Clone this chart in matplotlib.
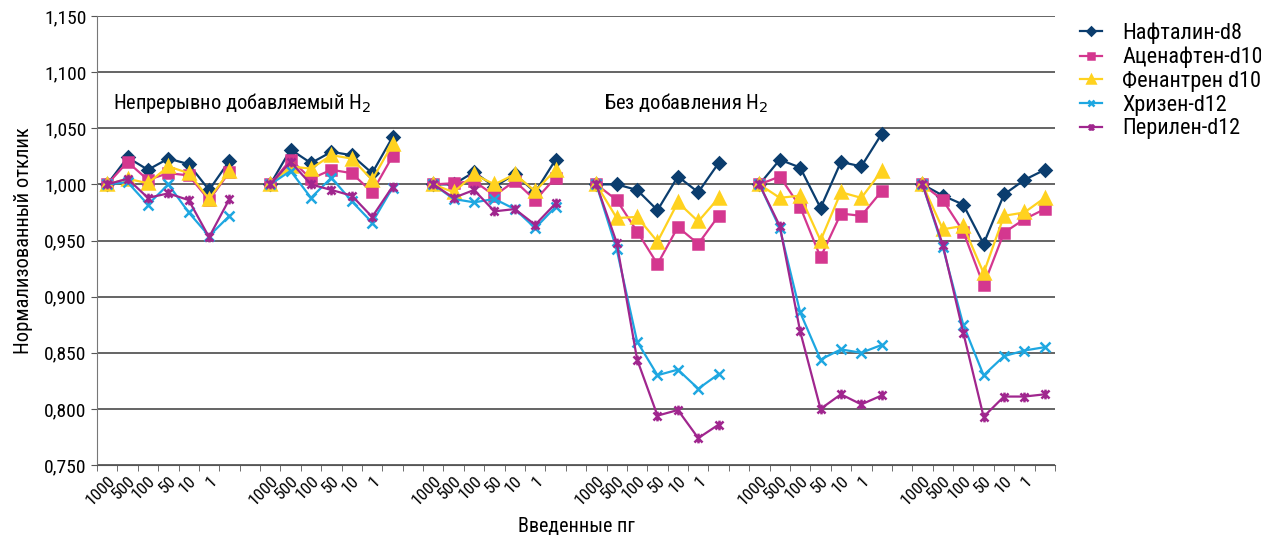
import matplotlib
matplotlib.use("Agg")
import matplotlib.pyplot as plt
from matplotlib import font_manager
from matplotlib.path import Path
from matplotlib.ticker import FuncFormatter, FixedLocator
import numpy as np

# узкий шрифт, если есть
names = {f.name for f in font_manager.fontManager.ttflist}
if 'Roboto Condensed' in names:
    plt.rcParams['font.family'] = ['Roboto Condensed', 'DejaVu Sans']
elif 'Liberation Sans Narrow' in names:
    plt.rcParams['font.family'] = ['Liberation Sans Narrow', 'DejaVu Sans']
else:
    plt.rcParams['font.family'] = ['DejaVu Sans']
    plt.rcParams['font.stretch'] = 'condensed'

# Данные: 6 серий по 7 точек
doses = ['1000', '500', '100', '50', '10', '1', '']
group_titles = [r'Непрерывно добавляемый H$_2$', r'Без добавления H$_2$']

naftalin = [1.000, 1.024, 1.013, 1.023, 1.018, 0.995, 1.021,
            1.000, 1.031, 1.019, 1.029, 1.026, 1.010, 1.042,
            1.000, 1.000, 1.011, 0.998, 1.009, 0.993, 1.022,
            1.000, 1.000, 0.995, 0.977, 1.007, 0.993, 1.019,
            1.000, 1.022, 1.015, 0.979, 1.020, 1.016, 1.045,
            1.000, 0.990, 0.982, 0.947, 0.991, 1.004, 1.013]
acenaften = [1.000, 1.020, 1.004, 1.010, 1.008, 0.986, 1.011,
             1.000, 1.022, 1.005, 1.013, 1.010, 0.993, 1.025,
             1.000, 1.001, 1.003, 0.990, 1.003, 0.986, 1.006,
             1.000, 0.986, 0.958, 0.929, 0.962, 0.947, 0.972,
             1.000, 1.007, 0.980, 0.935, 0.974, 0.972, 0.994,
             1.000, 0.986, 0.958, 0.910, 0.957, 0.969, 0.978]
fenantren = [1.000, 1.005, 1.001, 1.016, 1.010, 0.987, 1.012,
             1.000, 1.016, 1.014, 1.026, 1.023, 1.004, 1.036,
             1.000, 0.993, 1.009, 1.000, 1.009, 0.994, 1.013,
             1.000, 0.970, 0.971, 0.949, 0.984, 0.967, 0.988,
             1.000, 0.988, 0.990, 0.950, 0.993, 0.988, 1.012,
             1.000, 0.960, 0.963, 0.921, 0.972, 0.975, 0.988]
hrizen = [1.000, 1.002, 0.982, 1.000, 0.975, 0.954, 0.972,
          1.000, 1.012, 0.988, 1.006, 0.985, 0.966, 0.997,
          1.000, 0.987, 0.984, 0.987, 0.978, 0.961, 0.980,
          1.000, 0.942, 0.860, 0.830, 0.835, 0.818, 0.831,
          1.000, 0.961, 0.886, 0.844, 0.853, 0.850, 0.857,
          1.000, 0.944, 0.875, 0.830, 0.847, 0.852, 0.855]
perilen = [1.000, 1.005, 0.988, 0.992, 0.986, 0.953, 0.987,
           1.000, 1.020, 1.000, 0.995, 0.990, 0.971, 0.998,
           1.000, 0.988, 0.995, 0.976, 0.978, 0.964, 0.983,
           1.000, 0.948, 0.844, 0.794, 0.799, 0.774, 0.786,
           1.000, 0.963, 0.869, 0.800, 0.813, 0.804, 0.812,
           1.000, 0.946, 0.868, 0.793, 0.811, 0.811, 0.813]

# звёздочка как в Excel: косой крест + вертикальная черта
star = Path([(-1, -1), (1, 1), (-1, 1), (1, -1), (0, -1.2), (0, 1.2)],
            [Path.MOVETO, Path.LINETO, Path.MOVETO, Path.LINETO, Path.MOVETO, Path.LINETO])

series = [
    ('Нафталин-d8', naftalin, '#0b3d6e', 'D', 6),
    ('Аценафтен-d10', acenaften, '#d4378f', 's', 7.5),
    ('Фенантрен d10', fenantren, '#ffd21f', '^', 8.5),
    ('Хризен-d12', hrizen, '#1ea7e1', 'x', 7),
    ('Перилен-d12', perilen, '#a0268e', star, 7),
]

n_groups = 6
n_pts = 7
step = n_pts + 1

fig = plt.figure(figsize=(12.61, 5.42), dpi=100)
ax = fig.add_axes([0.0769, 0.142, 0.7597, 0.8285])

for name, vals, col, mk, ms in series:
    for g in range(n_groups):
        x = np.arange(n_pts) + g * step
        y = vals[g * n_pts:(g + 1) * n_pts]
        ax.plot(x, y, color=col, lw=1.6, marker=mk, ms=ms, mew=1.8,
                mec=col, mfc=col, label=name if g == 0 else None)

ax.set_ylim(0.75, 1.15)
ax.set_xlim(-0.5, n_groups * step - 1 - 0.5)
ax.set_yticks(np.arange(0.75, 1.1501, 0.05))
ax.yaxis.set_major_formatter(FuncFormatter(lambda v, p: f'{v:.3f}'.replace('.', ',')))
ax.yaxis.grid(True, color='#4a4a4a', lw=1.2)
ax.set_axisbelow(True)

labels_pos = []
labels_txt = []
for g in range(n_groups):
    for i, d in enumerate(doses):
        if d:
            labels_pos.append(g * step + i)
            labels_txt.append(d)
ax.set_xticks(labels_pos)
ax.set_xticklabels(labels_txt, rotation=45, ha='right', rotation_mode='anchor', fontsize=12.5)
ax.tick_params(axis='x', which='major', length=0, pad=6)
ax.xaxis.set_minor_locator(FixedLocator(np.arange(-0.5, n_groups * step - 1, 1)))
ax.tick_params(axis='x', which='minor', length=4, color='#555555')
ax.tick_params(axis='y', length=4, color='#555555', labelsize=14)

for s in ['top', 'right']:
    ax.spines[s].set_visible(False)
ax.spines['left'].set_color('#777777')
ax.spines['bottom'].set_color('#555555')

ax.text(0.28, 1.067, group_titles[0], fontsize=14.8, va='baseline')
ax.text(24.38, 1.067, group_titles[1], fontsize=14.8, va='baseline')

ax.set_xlabel('Введенные пг', fontsize=14.5, labelpad=6)
ax.set_ylabel('Нормализованный отклик', fontsize=14.8, labelpad=8)

fig.legend(loc='upper left', bbox_to_anchor=(0.8406, 0.995), frameon=False,
           fontsize=16, handlelength=1.0, labelspacing=0.12, handletextpad=0.9,
           markerscale=0.65)

fig.savefig('out.png', dpi=100)
